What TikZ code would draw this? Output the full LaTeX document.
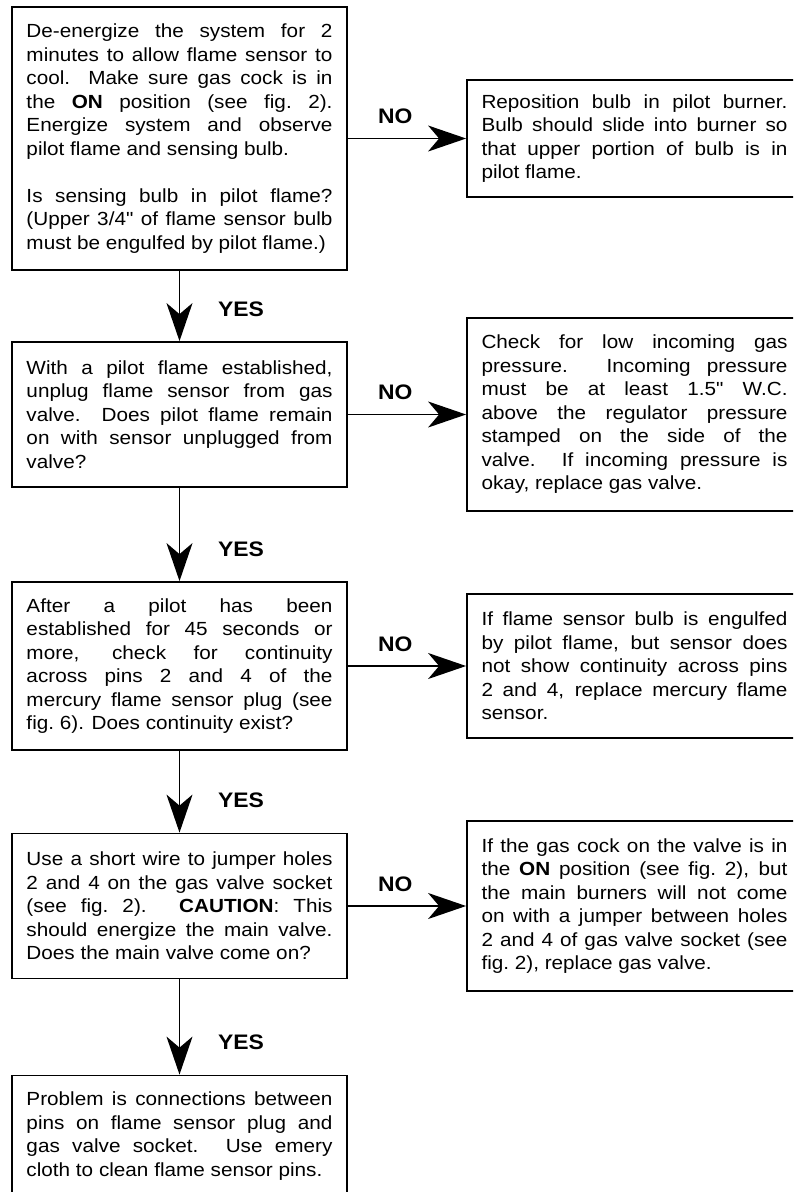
\documentclass[tikz,border=0pt]{standalone}
\usepackage{fontspec}
\setmainfont{Liberation Sans}[FakeStretch=1.09]
\newfontfamily\plainsans{Liberation Sans}[FakeStretch=1.09]
\newcommand{\inchmark}{{\plainsans"}}
\usepackage{tikz}
\usetikzlibrary{arrows.meta}
\tikzstyle{box} = [rectangle, draw=black, line width=1.8pt, text width=306pt, inner xsep=14.5pt, inner ysep=8pt, align=justify, font=\fontsize{19}{23.5}\selectfont]
\tikzstyle{arrow} = [line width=1.6pt, -{Stealth[length=38pt, width=26pt, inset=11pt]}]
\tikzstyle{answer} = [font=\bfseries\fontsize{21}{24}\selectfont]
\tolerance=10000
\hbadness=10000

\begin{document}
\begin{tikzpicture}[x=1pt, y=-1pt, node distance=240pt]
        \useasboundingbox (0,0) rectangle (793,1192);
        \clip (0,0) rectangle (793,1192);

        \node (check1) [box, minimum height=263pt] at (179.5,138.5) {De-energize the system for 2\linebreak minutes to allow flame sensor to\linebreak cool.  Make sure gas cock is in\linebreak the \textbf{ON} position (see fig.\ 2).\linebreak Energize system and observe\linebreak pilot flame and sensing bulb.\\[23.5pt] Is sensing bulb in pilot flame?\linebreak (Upper 3/4\inchmark{} of flame sensor bulb\linebreak must be engulfed by pilot flame.)};
        \node (check2) [box, minimum height=145pt, below of=check1, yshift=-36pt] {With a pilot flame established,\linebreak unplug flame sensor from gas\linebreak valve.  Does pilot flame remain\linebreak on with sensor unplugged from\linebreak valve?};
        \node (check3) [box, minimum height=168pt, below of=check2, yshift=-11.5pt] {After a pilot has been\linebreak established for 45 seconds or\linebreak more, check for continuity\linebreak across pins 2 and 4 of the\linebreak mercury flame sensor plug (see\linebreak fig.\ 6).  Does continuity exist?};
        \node (check4) [box, minimum height=145pt, below of=check3] {Use a short wire to jumper holes\linebreak 2 and 4 on the gas valve socket\linebreak (see fig.\ 2).  \textbf{CAUTION}:  This\linebreak should energize the main valve.\linebreak Does the main valve come on?};
        \node (clean) [box, minimum height=121pt, below of=check4, yshift=10pt] {Problem is connections between\linebreak pins on flame sensor plug and\linebreak gas valve socket.  Use emery\linebreak cloth to clean flame sensor pins.};

        \node (fix1) [box, minimum height=117pt, right of=check1, xshift=215pt] {Reposition bulb in pilot burner.\linebreak Bulb should slide into burner so\linebreak that upper portion of bulb is in\linebreak pilot flame.};
        \node (fix2) [box, minimum height=193pt, right of=check2, xshift=215pt] {Check for low incoming gas\linebreak pressure.  Incoming pressure\linebreak must be at least 1.5\inchmark{} W.C.\linebreak above the regulator pressure\linebreak stamped on the side of the\linebreak valve.  If incoming pressure is\linebreak okay, replace gas valve.};
        \node (fix3) [box, minimum height=144pt, right of=check3, xshift=215pt] {If flame sensor bulb is engulfed\linebreak by pilot flame, but sensor does\linebreak not show continuity across pins\linebreak 2 and 4, replace mercury flame\linebreak sensor.};
        \node (fix4) [box, minimum height=170pt, right of=check4, xshift=215pt] {If the gas cock on the valve is in\linebreak the \textbf{ON} position (see fig.\ 2), but\linebreak the main burners will not come\linebreak on with a jumper between holes\linebreak 2 and 4 of gas valve socket (see\linebreak fig.\ 2), replace gas valve.};

        \draw [arrow] (check1) -- (check2) node (yes1) [answer, pos=1, xshift=61.5pt, yshift=32pt] {YES};
        \draw [arrow] (check2) -- (check3) node (yes2) [answer, pos=1, xshift=61.5pt, yshift=32pt] {YES};
        \draw [arrow] (check3) -- (check4) node (yes3) [answer, pos=1, xshift=61.5pt, yshift=32pt] {YES};
        \draw [arrow] (check4) -- (clean) node (yes4) [answer, pos=1, xshift=61.5pt, yshift=32pt] {YES};
        \draw [arrow] (check1) -- (fix1) node (no1) [answer, pos=0.4, yshift=22pt] {NO};
        \draw [arrow] (check2) -- (fix2) node (no2) [answer, pos=0.4, yshift=22pt] {NO};
        \draw [arrow] (check3) -- (fix3) node (no3) [answer, pos=0.4, yshift=22pt] {NO};
        \draw [arrow] (check4) -- (fix4) node (no4) [answer, pos=0.4, yshift=22pt] {NO};
    \end{tikzpicture}
\end{document}
